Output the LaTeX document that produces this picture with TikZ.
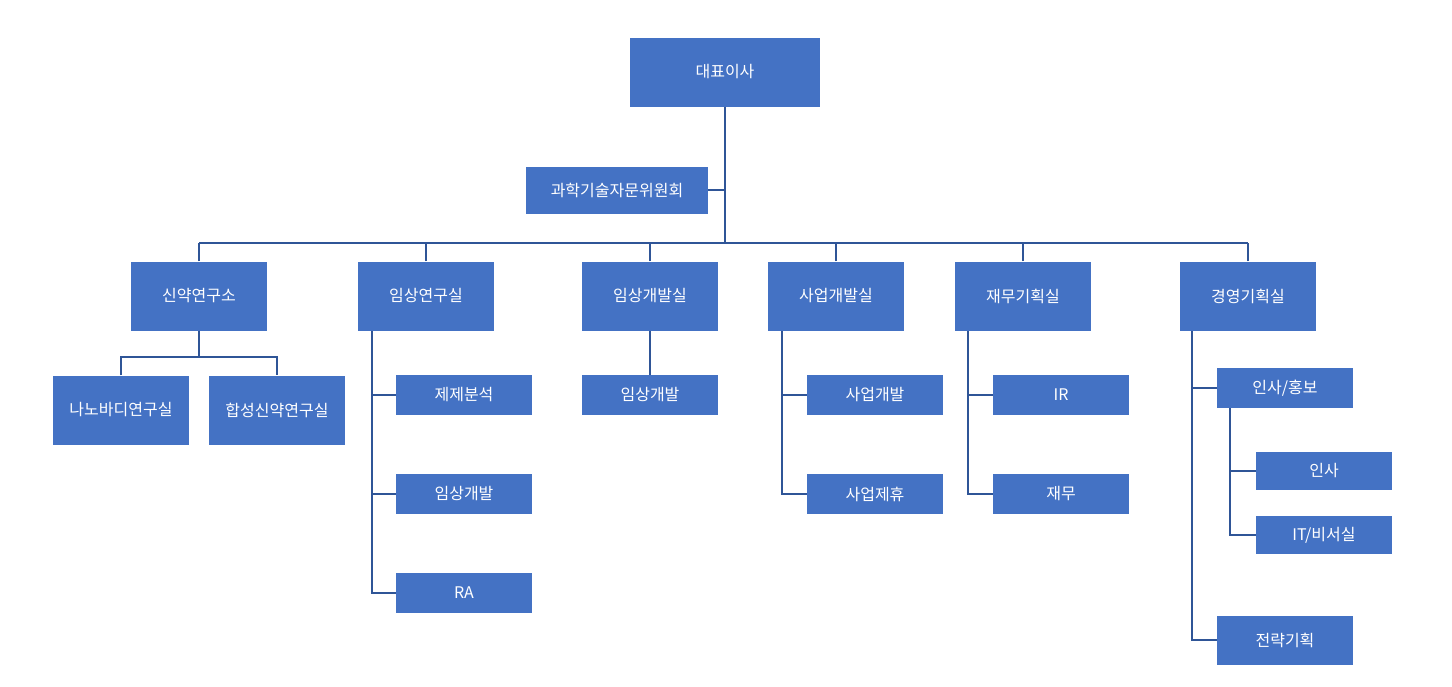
\documentclass[tikz,border=0pt]{standalone}
\usepackage{fontspec}
\setmainfont{Noto Sans CJK KR}
\begin{document}
\begin{tikzpicture}[x=1pt,y=-1pt,
  box/.style={fill={rgb,255:red,68;green,114;blue,196},text=white,minimum width=136pt,inner sep=0pt,font=\fontsize{16}{18}\selectfont},
  big/.style={box,minimum height=69pt},
  small/.style={box,minimum height=40pt},
  ln/.style={draw={rgb,255:red,47;green,85;blue,151},line width=1.5pt}]
\useasboundingbox (0,0) rectangle (1452,686);
\node[big,minimum width=190pt] (ceo) at (725,72) {대표이사};
\node[box,minimum width=182pt,minimum height=47pt] (adv) at (617,190) {과학기술자문위원회};
\coordinate (bus) at (725,243);
\draw[ln] (ceo.south) -- (bus);
\draw[ln] (adv.east) -- (725,190);
\foreach \n/\x/\t in {a/199/신약연구소,b/426/임상연구실,c/650/임상개발실,d/836/사업개발실,e/1023/재무기획실,f/1248/경영기획실}{
  \node[big] (\n) at (\x,296) {\t};
  \draw[ln] (\n.north) -- (\x,243);
}
\draw[ln] (199,243) -- (1248,243);
% a
\node[big,minimum height=69pt] (a1) at (121,410) {나노바디연구실};
\node[big,minimum height=69pt] (a2) at (277,410) {합성신약연구실};
\draw[ln] (a.south) -- (199,357);
\draw[ln] (a1.north) |- (199,357) -| (a2.north);
% b
\node[small] (b1) at (464,395) {제제분석};
\node[small] (b2) at (464,494) {임상개발};
\node[small] (b3) at (464,593) {RA};
\draw[ln] (372,331) |- (b3.west);
\draw[ln] (372,395) -- (b1.west);
\draw[ln] (372,494) -- (b2.west);
% c
\node[small] (c1) at (650,395) {임상개발};
\draw[ln] (c.south) -- (c1.north);
% d
\node[small] (d1) at (875,395) {사업개발};
\node[small] (d2) at (875,494) {사업제휴};
\draw[ln] (782,331) |- (d2.west);
\draw[ln] (782,395) -- (d1.west);
% e
\node[small] (e1) at (1061,395) {IR};
\node[small] (e2) at (1061,494) {재무};
\draw[ln] (968,331) |- (e2.west);
\draw[ln] (968,395) -- (e1.west);
% f
\node[small] (f1) at (1285,388) {인사/홍보};
\node[small,minimum height=49pt] (f2) at (1285,640) {전략기획};
\draw[ln] (1192,331) |- (f2.west);
\draw[ln] (1192,388) -- (f1.west);
\node[small,minimum height=38pt] (g1) at (1324,471) {인사};
\node[small,minimum height=38pt] (g2) at (1324,535) {IT/비서실};
\draw[ln] (1230,408) |- (g2.west);
\draw[ln] (1230,471) -- (g1.west);
\end{tikzpicture}
\end{document}
